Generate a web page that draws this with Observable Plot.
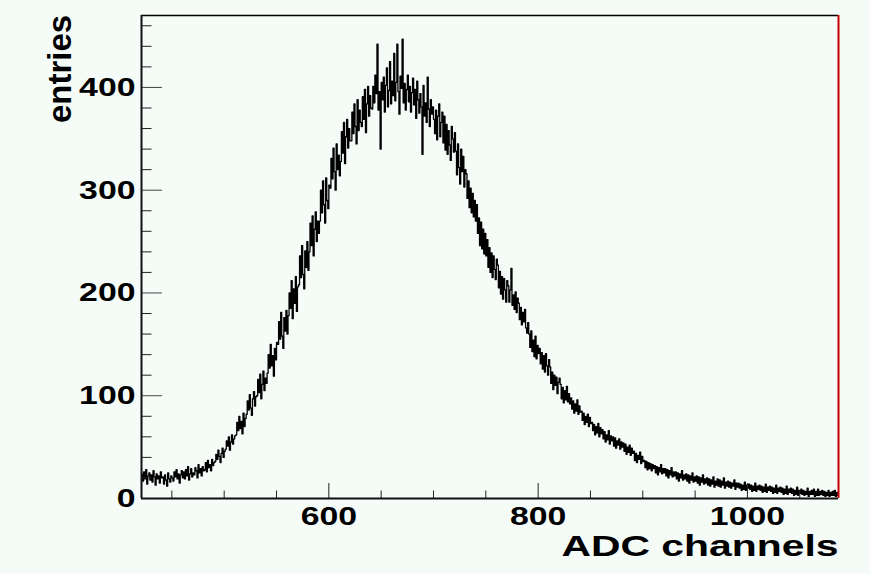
<!DOCTYPE html>
<html>
<head>
<meta charset="utf-8">
<script src="https://cdn.jsdelivr.net/npm/d3@7"></script>
<script src="https://cdn.jsdelivr.net/npm/@observablehq/plot@0.6"></script>
<style>
  html, body { margin: 0; padding: 0; background: #f5fbf7; }
  #chart svg { display: block; }
</style>
</head>
<body>
<div id="chart"></div>
<script>
// ---- data ----
const firstChannel = 421;          // left edge of first bin (1 channel per bin)
const lastEdge = 1087;             // right edge of last bin
const counts = [
 24,17,26,19,28,14,22,25,18,23,
 16,27,21,13,24,19,22,15,26,20,
 21,14,23,18,12,25,19,16,22,20,
 17,26,21,28,19,24,15,23,27,20,
 26,19,28,22,31,18,24,29,21,25,
 23,30,27,20,33,25,29,22,31,27,
 28,35,26,37,30,33,27,38,32,35,
 36,43,38,47,41,35,44,49,40,46,
 48,56,51,60,47,55,62,53,58,61,
 62,74,66,80,68,75,63,83,70,78,
 82,95,86,101,88,81,97,104,90,99,
 100,116,103,121,97,111,124,105,117,112,
 122,140,127,150,129,139,119,146,135,152,
 150,172,155,181,158,146,176,163,183,160,
 178,200,185,212,175,204,190,216,182,206,
 208,236,215,246,218,204,241,225,250,222,
 240,268,246,275,236,262,279,250,270,258,
 270,300,278,309,286,268,312,290,282,305,
 302,331,311,341,318,300,345,320,334,314,
 328,357,336,366,326,352,369,341,360,348,
 348,376,355,384,362,345,388,358,378,366,
 362,391,369,398,356,384,401,372,392,380,
 379,401,385,412,394,442,378,396,340,405,
 388,410,376,402,419,381,397,425,384,406,
 392,433,387,405,442,396,374,411,399,447,
 385,404,378,398,412,386,401,376,395,409,
 383,398,370,406,388,375,394,381,335,402,
 372,385,366,410,379,362,388,374,381,369,
 355,378,349,372,384,352,366,376,346,372,
 339,364,335,358,344,329,362,350,337,356,
 338,315,345,322,306,340,318,333,303,320,
 316,292,309,283,302,278,297,274,290,270,
 286,258,273,246,269,243,262,238,258,236,
 252,225,244,220,239,215,236,223,213,233,
 227,205,221,199,216,194,214,203,191,212,
 207,191,203,224,188,198,184,201,181,195,
 190,174,186,169,181,172,184,166,161,171,
 160,147,163,143,154,138,158,136,149,141,
 146,131,142,126,139,123,141,129,120,135,
 128,112,123,106,120,110,118,102,113,117,
 111,97,108,93,105,96,109,94,102,92,
 98,87,95,83,92,85,96,82,90,84,
 85,76,83,72,80,74,82,70,79,73,
 74,66,72,62,70,64,73,60,69,63,
 67,58,65,55,62,57,66,53,61,56,
 60,51,59,49,56,52,58,48,55,50,
 54,46,53,43,50,45,52,42,49,44,
 46,37,44,35,42,38,45,34,41,36,
 37,30,36,28,35,29,34,27,33,29,
 32,25,31,23,30,26,33,24,29,25,
 29,22,28,20,27,23,30,21,26,22,
 26,19,25,17,24,20,27,18,23,19,
 24,17,23,15,22,18,25,16,21,17,
 22,15,21,13,20,16,23,14,19,15,
 20,13,19,12,18,14,21,11,17,13,
 19,12,18,11,17,13,20,10,16,12,
 17,11,16,10,15,12,18,9,15,11,
 15,10,14,8,13,9,16,8,13,10,
 14,9,13,7,12,8,15,7,12,9,
 13,8,12,6,11,7,14,6,11,8,
 12,7,11,5,10,6,13,5,10,7,
 11,6,10,4,9,5,12,4,9,6,
 10,5,9,3,8,4,11,3,8,5,
 9,4,8,3,7,4,10,2,7,4,
 8,4,9,2,7,3,9,3,7,4,
 8,3,7,2,6,3,8,2,6,3,
 7,3,8,2,6,3
];
const yMajorTicks = [0, 100, 200, 300, 400];
const yMinorTicks = [20,40,60,80,120,140,160,180,220,240,260,280,320,340,360,380,420,440,460];
const xMajorTicks = [600, 800, 1000];
const xMinorTicks = [450,500,550,650,700,750,850,900,950,1050];
const xTitle = "ADC channels";
const yTitle = "entries";

// ---- build ----
const W = 870, H = 574, mL = 141, mR = 32, mT = 15, mB = 76;
const plotW = W - mL - mR, plotH = H - mT - mB;
const rows = counts.map((n, i) => ({ch: firstChannel + i, n}));
rows.push({ch: lastEdge, n: counts[counts.length - 1]});

const font = "'Liberation Sans', Arial, Helvetica, sans-serif";

const chart = Plot.plot({
  width: W, height: H,
  marginLeft: mL, marginRight: mR, marginTop: mT, marginBottom: mB,
  x: {domain: [firstChannel, lastEdge], axis: null},
  y: {domain: [0, 470], axis: null},
  style: {background: "#f5fbf7", fontFamily: font},
  marks: [
    // histogram
    Plot.line(rows, {x: "ch", y: "n", curve: "step-after", stroke: "#000", strokeWidth: 1.3}),
    // ticks
    Plot.tickY(yMinorTicks, {y: d => d, insetRight: plotW - 10.5, stroke: "#222", strokeWidth: 1}),
    Plot.tickY(yMajorTicks, {y: d => d, insetRight: plotW - 21, stroke: "#444", strokeWidth: 1}),
    Plot.tickX(xMinorTicks, {x: d => d, insetTop: plotH - 7.5, stroke: "#222", strokeWidth: 1}),
    Plot.tickX(xMajorTicks, {x: d => d, insetTop: plotH - 15, stroke: "#222", strokeWidth: 1}),
    // frame
    Plot.ruleY([470], {stroke: "#000", strokeWidth: 1.5}),
    Plot.ruleX([lastEdge], {y1: 0, y2: 470, stroke: "#cc0000", strokeWidth: 2}),
    Plot.ruleX([firstChannel], {y1: 0, y2: 470, stroke: "#111", strokeWidth: 2}),
    Plot.ruleY([0], {stroke: "#111", strokeWidth: 2}),
    // tick labels
    Plot.text(yMajorTicks, {x: firstChannel, y: d => d, text: d => String(d), textAnchor: "end", dx: -6,
      fontSize: 26, fontWeight: "bold", fill: "#000"}),
    Plot.text(xMajorTicks, {x: d => d, y: 0, text: d => String(d), dy: 18,
      fontSize: 26, fontWeight: "bold", fill: "#000"}),
    // titles
    Plot.text([xTitle], {frameAnchor: "bottom-right", textAnchor: "end", lineAnchor: "bottom", dy: 57,
      fontSize: 30, fontWeight: "bold", fill: "#000"}),
    Plot.text([yTitle], {frameAnchor: "top-left", textAnchor: "middle", lineAnchor: "bottom", rotate: -90,
      dx: 70 - mL, dy: 68.5 - mT, fontSize: 33, fontWeight: "bold", fill: "#000"})
  ]
});
document.getElementById("chart").appendChild(chart);

// horizontal stretch of labels, as in the reference rendering
d3.select(chart).selectAll("text").each(function() {
  const t = this.textContent;
  if (/^\d+$/.test(t)) {
    this.setAttribute("textLength", (t.length * 18.8).toFixed(1));
    this.setAttribute("lengthAdjust", "spacingAndGlyphs");
  } else if (t === xTitle) {
    this.setAttribute("textLength", "277");
    this.setAttribute("lengthAdjust", "spacingAndGlyphs");
  }
});
</script>
</body>
</html>
